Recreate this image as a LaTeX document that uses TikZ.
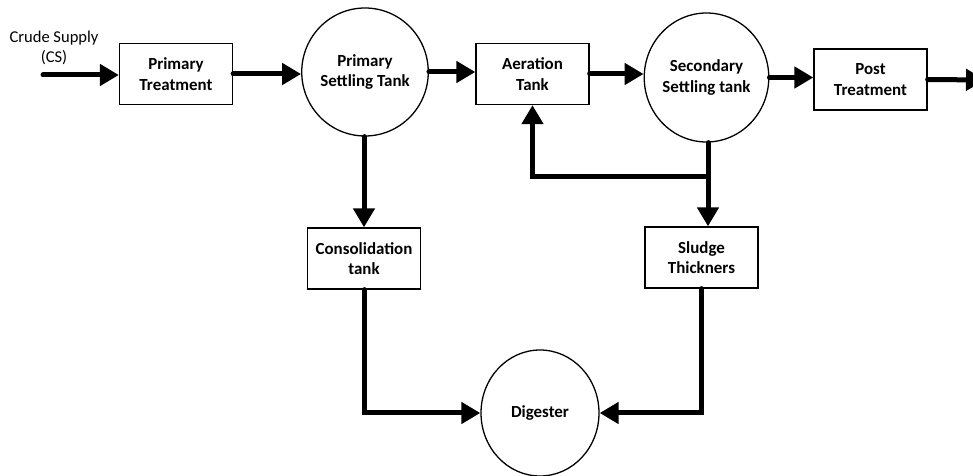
\documentclass[tikz,border=0pt]{standalone}
\usepackage{fontspec}
\setmainfont{Carlito}
\usetikzlibrary{arrows.meta,shapes.geometric}
\begin{document}
\begin{tikzpicture}[x=1bp,y=-1bp,
  box/.style={draw,line width=1.3bp,minimum width=113bp,minimum height=61bp,align=center,font=\fontsize{17}{20.5}\selectfont\bfseries,inner sep=0pt},
  tank/.style={draw,ellipse,line width=1.3bp,align=center,font=\fontsize{17}{20.5}\selectfont\bfseries,inner sep=0pt},
  flow/.style={line width=5bp,line cap=round,-{Triangle[length=19bp,width=21bp]}}]
\useasboundingbox (0,0) rectangle (973,476);
\clip (0,0) rectangle (973,476);
\node[box] (pt) at (176,74) {Primary\\Treatment};
\node[tank,minimum width=118bp,minimum height=128bp] (pst) at (365,72) {Primary\\Settling Tank};
\node[box] (at) at (532.5,74) {Aeration\\Tank};
\node[tank,minimum width=119bp,minimum height=129bp] (sst) at (706.5,77.5) {Secondary\\Settling tank};
\node[box] (post) at (870.5,79.5) {Post\\Treatment};
\node[box] (cons) at (364,258.5) {Consolidation\\tank};
\node[box] (sludge) at (701.5,257.5) {Sludge\\Thickners};
\node[tank,minimum width=118bp,minimum height=126bp] (dig) at (540,413) {Digester};
\coordinate (cs) at (43,75);
\coordinate (out) at (985,80);
\coordinate (jn) at (708,177);
\node[align=center,font=\fontsize{16.6}{20.5}\selectfont,inner sep=0pt] (cslabel) at (54,48) {Crude Supply\\(CS)};
\draw[flow] (cs) -- (pt.west |- cs);
\draw[flow] (pt.east) -- (pt.east -| pst.west);
\draw[flow] (pst.east) -- (pst.east -| at.west);
\draw[flow] (at.east) -- (at.east -| sst.west);
\draw[flow] (sst.east) -- (sst.east -| post.west);
\draw[flow] (post.east) -- (out);
\draw[flow] (cons.north |- pst.south) -- (cons.north);
\draw[flow] (jn |- sst.south) -- (jn |- sludge.north);
\draw[flow] (jn) -| (at.south);
\draw[flow] (cons.south) |- (dig.west);
\draw[flow] (sludge.south) |- (dig.east);
\end{tikzpicture}
\end{document}
